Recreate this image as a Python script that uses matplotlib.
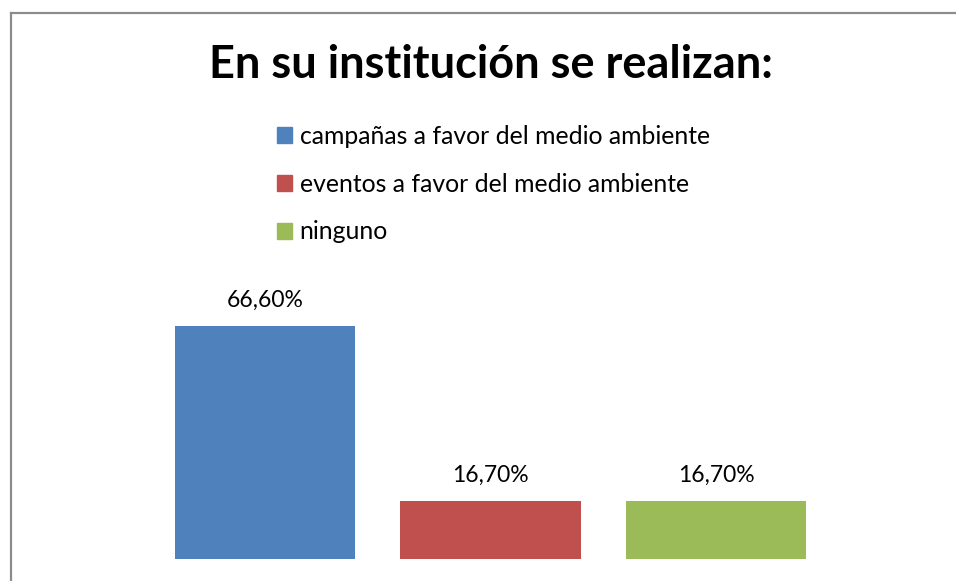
import matplotlib
matplotlib.use("Agg")
import matplotlib.pyplot as plt
from matplotlib.lines import Line2D

matplotlib.rcParams["font.family"] = ["Lato", "DejaVu Sans"]

categories = ["campañas a favor del medio ambiente",
              "eventos a favor del medio ambiente",
              "ninguno"]
values = [66.6, 16.7, 16.7]
value_labels = ["66,60%", "16,70%", "16,70%"]
colors = ["#4f81bd", "#c0504d", "#9bbb59"]

W, H = 956, 581
fig = plt.figure(figsize=(W / 100, H / 100), dpi=100)

# chart frame (cropped on right and bottom)
fig.add_artist(Line2D([10.5 / W, 10.5 / W], [0, 1 - 12.5 / H],
                      color="#8c8c8c", lw=1.6))
fig.add_artist(Line2D([10.5 / W, 1], [1 - 12.5 / H, 1 - 12.5 / H],
                      color="#8c8c8c", lw=1.6))

fig.text(491 / W, 1 - 65 / H, "En su institución se realizan:",
         ha="center", va="center", fontsize=32.5, fontweight="bold")

ax = fig.add_axes([152.25 / W, 22 / H, 676.5 / W, 245 / H])
x = range(len(values))
bars = ax.bar(x, values, width=0.8, color=colors)
for xi, v, lab in zip(x, values, value_labels):
    ax.text(xi, v + 4.3, lab, ha="center", va="bottom", fontsize=16.5)
ax.set_xlim(-0.5, 2.5)
ax.set_ylim(0, 70)
ax.axis("off")

handles = [plt.Rectangle((0, 0), 1, 1, color=c) for c in colors]
fig.legend(handles, categories, loc="upper left",
           bbox_to_anchor=(267 / W, 1 - 115 / H), frameon=False,
           fontsize=17.8, handlelength=0.62, handleheight=0.62,
           handletextpad=0.3, labelspacing=1.0, borderaxespad=0)

fig.savefig("out.png", dpi=100)
